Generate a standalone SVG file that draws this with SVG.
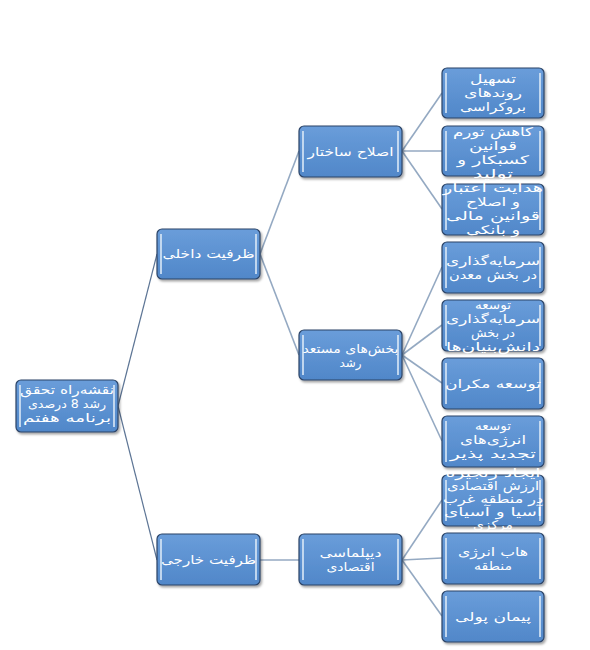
<svg xmlns="http://www.w3.org/2000/svg" width="590" height="650" viewBox="0 0 590 650">
<defs>
<linearGradient id="g" x1="0" y1="0" x2="0" y2="1">
<stop offset="0" stop-color="#6a9dda"/>
<stop offset="1" stop-color="#5087c9"/>
</linearGradient>
<filter id="sh" x="-10%" y="-10%" width="130%" height="130%">
<feDropShadow dx="1.5" dy="2" stdDeviation="1.2" flood-color="#000" flood-opacity="0.35"/>
</filter>
<style>
.box{fill:url(#g);stroke:#2c4467;stroke-width:1.2;filter:url(#sh)}
.hl{stroke:#dbe9f7;stroke-width:1.6}
.c1{stroke:#5d7595;stroke-width:1.2;fill:none}
.c2{stroke:#94a9c2;stroke-width:1.6;fill:none}
text{font-family:"DejaVu Sans","Noto Sans",sans-serif;font-size:12px;fill:#ffffff;text-anchor:middle;direction:rtl}
</style>
</defs>
<rect width="590" height="650" fill="#ffffff"/>
<g id="connectors">
<line class="c1" x1="118" y1="406" x2="157" y2="254"/>
<line class="c1" x1="118" y1="406" x2="157" y2="560"/>
<line class="c2" x1="260" y1="254" x2="299" y2="151"/>
<line class="c2" x1="260" y1="254" x2="299" y2="355"/>
<line class="c2" x1="260" y1="560" x2="299" y2="560"/>
<line class="c2" x1="402" y1="151" x2="442" y2="93"/>
<line class="c2" x1="402" y1="151" x2="442" y2="151"/>
<line class="c2" x1="402" y1="151" x2="442" y2="209"/>
<line class="c2" x1="402" y1="355" x2="442" y2="267"/>
<line class="c2" x1="402" y1="355" x2="442" y2="325"/>
<line class="c2" x1="402" y1="355" x2="442" y2="383"/>
<line class="c2" x1="402" y1="355" x2="442" y2="441"/>
<line class="c2" x1="402" y1="560" x2="442" y2="500"/>
<line class="c2" x1="402" y1="560" x2="442" y2="558"/>
<line class="c2" x1="402" y1="560" x2="442" y2="616"/>
</g>
<g id="root">
<rect class="box" x="16" y="380" width="102" height="52" rx="5"/>
<line class="hl" x1="20" y1="385" x2="20" y2="427"/><line class="hl" x1="114" y1="385" x2="114" y2="427"/>
<text x="67" y="394" textLength="94" lengthAdjust="spacingAndGlyphs">نقشه‌راه تحقق</text>
<text x="67" y="408" textLength="78" lengthAdjust="spacingAndGlyphs">رشد 8 درصدی</text>
<text x="67" y="422" textLength="88" lengthAdjust="spacingAndGlyphs">برنامه هفتم</text>
</g>
<g id="internal">
<rect class="box" x="157" y="229" width="103" height="50" rx="5"/>
<line class="hl" x1="161" y1="234" x2="161" y2="274"/><line class="hl" x1="256" y1="234" x2="256" y2="274"/>
<text x="208.5" y="258" textLength="92" lengthAdjust="spacingAndGlyphs">ظرفیت داخلی</text>
</g>
<g id="external">
<rect class="box" x="157" y="534" width="103" height="51" rx="5"/>
<line class="hl" x1="161" y1="539" x2="161" y2="580"/><line class="hl" x1="256" y1="539" x2="256" y2="580"/>
<text x="208.5" y="564" textLength="95" lengthAdjust="spacingAndGlyphs">ظرفیت خارجی</text>
</g>
<g id="structural-reform">
<rect class="box" x="299" y="126" width="103" height="51" rx="5"/>
<line class="hl" x1="303" y1="131" x2="303" y2="172"/><line class="hl" x1="398" y1="131" x2="398" y2="172"/>
<text x="350.5" y="156" textLength="86" lengthAdjust="spacingAndGlyphs">اصلاح ساختار</text>
</g>
<g id="growth-sectors">
<rect class="box" x="299" y="330" width="103" height="50" rx="5"/>
<line class="hl" x1="303" y1="335" x2="303" y2="375"/><line class="hl" x1="398" y1="335" x2="398" y2="375"/>
<text x="350.5" y="353" textLength="96" lengthAdjust="spacingAndGlyphs">بخش‌های مستعد</text>
<text x="350.5" y="367" textLength="22" lengthAdjust="spacingAndGlyphs">رشد</text>
</g>
<g id="economic-diplomacy">
<rect class="box" x="299" y="534" width="103" height="51" rx="5"/>
<line class="hl" x1="303" y1="539" x2="303" y2="580"/><line class="hl" x1="398" y1="539" x2="398" y2="580"/>
<text x="350.5" y="557" textLength="62" lengthAdjust="spacingAndGlyphs">دیپلماسی</text>
<text x="350.5" y="571" textLength="48" lengthAdjust="spacingAndGlyphs">اقتصادی</text>
</g>
<g id="leaf1">
<rect class="box" x="442" y="68" width="102" height="50" rx="5"/>
<line class="hl" x1="446" y1="73" x2="446" y2="113"/><line class="hl" x1="540" y1="73" x2="540" y2="113"/>
<text x="493" y="83" textLength="46" lengthAdjust="spacingAndGlyphs">تسهیل</text>
<text x="493" y="97" textLength="58" lengthAdjust="spacingAndGlyphs">روندهای</text>
<text x="493" y="111" textLength="66" lengthAdjust="spacingAndGlyphs">بروکراسی</text>
</g>
<g id="leaf2">
<rect class="box" x="442" y="126" width="102" height="50" rx="5"/>
<line class="hl" x1="446" y1="131" x2="446" y2="171"/><line class="hl" x1="540" y1="131" x2="540" y2="171"/>
<text x="493" y="136" textLength="80" lengthAdjust="spacingAndGlyphs">کاهش تورم</text>
<text x="493" y="150" textLength="48" lengthAdjust="spacingAndGlyphs">قوانین</text>
<text x="493" y="164" textLength="72" lengthAdjust="spacingAndGlyphs">کسبکار و</text>
<text x="493" y="178" textLength="40" lengthAdjust="spacingAndGlyphs">تولید</text>
</g>
<g id="leaf3">
<rect class="box" x="442" y="184" width="102" height="51" rx="5"/>
<line class="hl" x1="446" y1="189" x2="446" y2="230"/><line class="hl" x1="540" y1="189" x2="540" y2="230"/>
<text x="493" y="192" textLength="100" lengthAdjust="spacingAndGlyphs">هدایت اعتبار</text>
<text x="493" y="206" textLength="54" lengthAdjust="spacingAndGlyphs">و اصلاح</text>
<text x="493" y="220" textLength="94" lengthAdjust="spacingAndGlyphs">قوانین مالی</text>
<text x="493" y="234" textLength="54" lengthAdjust="spacingAndGlyphs">و بانکی</text>
</g>
<g id="leaf4">
<rect class="box" x="442" y="242" width="102" height="51" rx="5"/>
<line class="hl" x1="446" y1="247" x2="446" y2="288"/><line class="hl" x1="540" y1="247" x2="540" y2="288"/>
<text x="493" y="265" textLength="94" lengthAdjust="spacingAndGlyphs">سرمایه‌گذاری</text>
<text x="493" y="279" textLength="88" lengthAdjust="spacingAndGlyphs">در بخش معدن</text>
</g>
<g id="leaf5">
<rect class="box" x="442" y="300" width="102" height="51" rx="5"/>
<line class="hl" x1="446" y1="305" x2="446" y2="346"/><line class="hl" x1="540" y1="305" x2="540" y2="346"/>
<text x="493" y="309" textLength="36" lengthAdjust="spacingAndGlyphs">توسعه</text>
<text x="493" y="323" textLength="94" lengthAdjust="spacingAndGlyphs">سرمایه‌گذاری</text>
<text x="493" y="337" textLength="44" lengthAdjust="spacingAndGlyphs">در بخش</text>
<text x="493" y="351" textLength="94" lengthAdjust="spacingAndGlyphs">دانش‌بنیان‌ها</text>
</g>
<g id="leaf6">
<rect class="box" x="442" y="358" width="102" height="51" rx="5"/>
<line class="hl" x1="446" y1="363" x2="446" y2="404"/><line class="hl" x1="540" y1="363" x2="540" y2="404"/>
<text x="493" y="388" textLength="96" lengthAdjust="spacingAndGlyphs">توسعه مکران</text>
</g>
<g id="leaf7">
<rect class="box" x="442" y="416" width="102" height="51" rx="5"/>
<line class="hl" x1="446" y1="421" x2="446" y2="462"/><line class="hl" x1="540" y1="421" x2="540" y2="462"/>
<text x="493" y="430" textLength="36" lengthAdjust="spacingAndGlyphs">توسعه</text>
<text x="493" y="444" textLength="66" lengthAdjust="spacingAndGlyphs">انرژی‌های</text>
<text x="493" y="458" textLength="86" lengthAdjust="spacingAndGlyphs">تجدید پذیر</text>
</g>
<g id="leaf8">
<rect class="box" x="442" y="475" width="102" height="51" rx="5"/>
<line class="hl" x1="446" y1="480" x2="446" y2="521"/><line class="hl" x1="540" y1="480" x2="540" y2="521"/>
<text x="493" y="477" textLength="95" lengthAdjust="spacingAndGlyphs">ایجاد زنجیره</text>
<text x="493" y="490" textLength="92" lengthAdjust="spacingAndGlyphs">ارزش اقتصادی</text>
<text x="493" y="503" textLength="100" lengthAdjust="spacingAndGlyphs">در منطقه غرب</text>
<text x="493" y="516" textLength="98" lengthAdjust="spacingAndGlyphs">آسیا و آسیای</text>
<text x="493" y="529" textLength="40" lengthAdjust="spacingAndGlyphs">مرکزی</text>
</g>
<g id="leaf9">
<rect class="box" x="442" y="533" width="102" height="51" rx="5"/>
<line class="hl" x1="446" y1="538" x2="446" y2="579"/><line class="hl" x1="540" y1="538" x2="540" y2="579"/>
<text x="493" y="556" textLength="70" lengthAdjust="spacingAndGlyphs">هاب انرژی</text>
<text x="493" y="570" textLength="38" lengthAdjust="spacingAndGlyphs">منطقه</text>
</g>
<g id="leaf10">
<rect class="box" x="442" y="591" width="102" height="51" rx="5"/>
<line class="hl" x1="446" y1="596" x2="446" y2="637"/><line class="hl" x1="540" y1="596" x2="540" y2="637"/>
<text x="493" y="621" textLength="76" lengthAdjust="spacingAndGlyphs">پیمان پولی</text>
</g>
</svg>
